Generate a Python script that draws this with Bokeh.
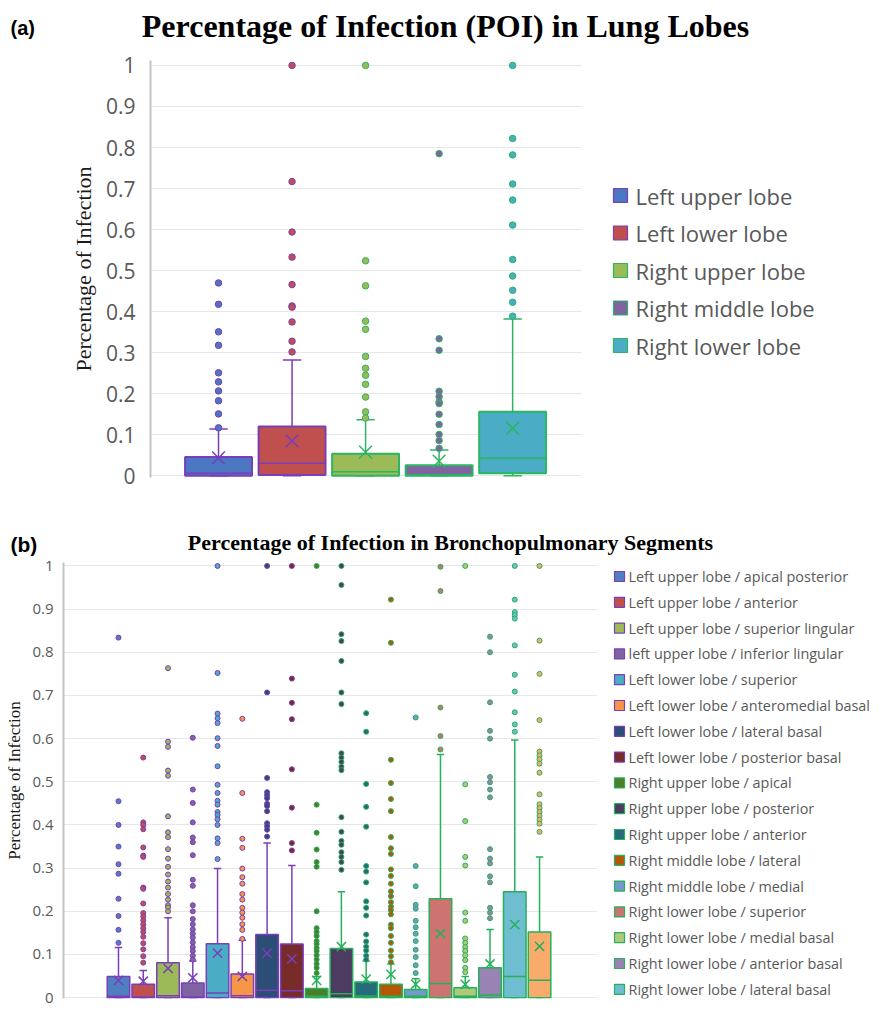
from bokeh.plotting import figure
from bokeh.models import Range1d, FixedTicker
from bokeh.layouts import column, row
from bokeh.embed import file_html
from bokeh.resources import INLINE
from bokeh.core.properties import value

# ---------------- data : panel (a) ----------------
lobes = ["Left upper lobe", "Left lower lobe", "Right upper lobe",
         "Right middle lobe", "Right lower lobe"]
lobe_q1 = [0.0, 0.002, 0.0, 0.0, 0.0065]
lobe_median = [0.0065, 0.031, 0.0098, 0.003, 0.043]
lobe_q3 = [0.046, 0.12, 0.054, 0.026, 0.156]
lobe_low = [0.0, 0.0, 0.0, 0.0, 0.0]
lobe_high = [0.114, 0.282, 0.137, 0.063, 0.382]
lobe_mean = [0.044, 0.085, 0.058, 0.036, 0.116]
lobe_outliers = [
    [0.47, 0.418, 0.351, 0.318, 0.251, 0.229, 0.207, 0.183, 0.151, 0.117],
    [1.0, 0.717, 0.594, 0.533, 0.466, 0.414, 0.411, 0.375, 0.328, 0.302],
    [1.0, 0.524, 0.463, 0.377, 0.357, 0.291, 0.262, 0.245, 0.223, 0.192, 0.156, 0.141],
    [0.785, 0.334, 0.306, 0.206, 0.193, 0.18, 0.176, 0.15, 0.125, 0.101, 0.086, 0.067],
    [1.0, 0.822, 0.782, 0.711, 0.672, 0.611, 0.527, 0.487, 0.452, 0.423, 0.389],
]
lobe_fill = ["#4A76C2", "#C0504D", "#9BBB59", "#8064A2", "#4BACC6"]
lobe_edge = ["#7A3EB8", "#7A3EB8", "#2DB562", "#2DB562", "#2DB562"]

# ---------------- data : panel (b) ----------------
segments = [
    "Left upper lobe / apical posterior",
    "Left upper lobe / anterior",
    "Left upper lobe / superior lingular",
    "left upper lobe /  inferior lingular",
    "Left lower lobe / superior",
    "Left lower lobe / anteromedial basal",
    "Left lower lobe / lateral basal",
    "Left lower lobe / posterior basal",
    "Right upper lobe / apical",
    "Right upper lobe / posterior",
    "Right upper lobe / anterior",
    "Right middle lobe / lateral",
    "Right middle lobe / medial",
    "Right lower lobe / superior",
    "Right lower lobe / medial basal",
    "Right lower lobe / anterior basal",
    "Right lower lobe / lateral basal",
    "Right lower lobe / posterior basal",
]
legend_count_b = 17  # the original legend lists the first 17 names only
seg_q1 = [0.0] * 18
seg_median = [0.003, 0.0015, 0.0045, 0.0015, 0.0105, 0.0045, 0.017, 0.016, 0.003,
              0.009, 0.004, 0.003, 0.003, 0.033, 0.003, 0.006, 0.049, 0.04]
seg_q3 = [0.049, 0.031, 0.081, 0.034, 0.125, 0.055, 0.146, 0.124, 0.021,
          0.114, 0.036, 0.031, 0.019, 0.229, 0.023, 0.069, 0.245, 0.152]
seg_low = [0.0] * 18
seg_high = [0.116, 0.063, 0.185, 0.085, 0.299, 0.133, 0.358, 0.306, 0.049,
            0.245, 0.085, 0.078, 0.044, 0.563, 0.049, 0.158, 0.597, 0.326]
seg_mean = [0.04, 0.038, 0.068, 0.046, 0.103, 0.049, 0.103, 0.09, 0.04,
            0.118, 0.043, 0.054, 0.031, 0.148, 0.031, 0.078, 0.169, 0.119]
seg_outliers = [
    [0.834, 0.455, 0.40, 0.35, 0.309, 0.287, 0.229, 0.189, 0.157, 0.127],
    [0.556, 0.406, 0.40, 0.39, 0.348, 0.329, 0.326, 0.255, 0.252, 0.218, 0.196, 0.188,
     0.179, 0.17, 0.161, 0.152, 0.141, 0.126, 0.112, 0.096, 0.081],
    [0.763, 0.593, 0.581, 0.526, 0.514, 0.42, 0.383, 0.372, 0.344, 0.322, 0.303, 0.285,
     0.269, 0.255, 0.24, 0.227, 0.214, 0.209, 0.2],
    [0.602, 0.482, 0.451, 0.406, 0.371, 0.36, 0.33, 0.273, 0.259, 0.214, 0.2, 0.182,
     0.17, 0.158, 0.148, 0.139, 0.128, 0.117, 0.108, 0.097, 0.088],
    [1.0, 0.752, 0.658, 0.647, 0.636, 0.601, 0.583, 0.536, 0.493, 0.474, 0.456, 0.447,
     0.43, 0.423, 0.413, 0.40, 0.369, 0.358, 0.321],
    [0.646, 0.474, 0.368, 0.347, 0.299, 0.279, 0.264, 0.24, 0.227, 0.208, 0.197, 0.185,
     0.17, 0.157, 0.136],
    [1.0, 0.707, 0.509, 0.476, 0.469, 0.462, 0.449, 0.444, 0.432, 0.404, 0.397, 0.389, 0.373],
    [1.0, 0.739, 0.683, 0.645, 0.529, 0.44, 0.358, 0.341],
    [1.0, 0.447, 0.382, 0.343, 0.314, 0.303, 0.2, 0.161, 0.152, 0.143, 0.131, 0.124,
     0.115, 0.108, 0.098, 0.088, 0.078, 0.069, 0.057],
    [1.0, 0.956, 0.842, 0.826, 0.78, 0.707, 0.68, 0.566, 0.556, 0.546, 0.535, 0.527,
     0.418, 0.384, 0.363, 0.354, 0.337, 0.326, 0.314, 0.296],
    [0.659, 0.616, 0.495, 0.442, 0.396, 0.305, 0.292, 0.267, 0.223, 0.208, 0.19, 0.146,
     0.13, 0.118, 0.109, 0.097, 0.088],
    [0.922, 0.822, 0.551, 0.497, 0.46, 0.432, 0.372, 0.346, 0.333, 0.297, 0.282, 0.264,
     0.246, 0.235, 0.221, 0.211, 0.203, 0.193, 0.169, 0.161, 0.143, 0.127, 0.109, 0.096, 0.082],
    [0.649, 0.305, 0.258, 0.215, 0.206, 0.178, 0.163, 0.148, 0.131, 0.111, 0.094, 0.075, 0.057],
    [0.998, 0.942, 0.672, 0.606, 0.575],
    [1.0, 0.494, 0.409, 0.326, 0.306, 0.197, 0.178, 0.137, 0.127, 0.117, 0.108, 0.098,
     0.087, 0.069, 0.059],
    [0.836, 0.80, 0.684, 0.618, 0.60, 0.511, 0.499, 0.482, 0.464, 0.344, 0.322, 0.311,
     0.281, 0.267, 0.208, 0.197, 0.184],
    [1.0, 0.922, 0.893, 0.886, 0.878, 0.816, 0.748, 0.709, 0.661, 0.633, 0.616],
    [1.0, 0.827, 0.75, 0.643, 0.57, 0.561, 0.552, 0.542, 0.521, 0.471, 0.448, 0.439,
     0.43, 0.421, 0.412, 0.403, 0.384],
]
seg_fill = ["#4F7FC0", "#C0504D", "#9BBB59", "#8064A2", "#4BACC6", "#F79646",
            "#2C4D75", "#772C2A", "#4E7D2A", "#4D3B62", "#276A7C", "#B65708",
            "#729ACA", "#CD7371", "#AFC97A", "#9983B5", "#6FBDD1", "#F9AB6B"]
seg_edge = ["#7A3EB8"] * 8 + ["#25B05A"] * 10

ytick_values = [0, 0.1, 0.2, 0.3, 0.4, 0.5, 0.6, 0.7, 0.8, 0.9, 1]
ytick_labels = ["0", "0.1", "0.2", "0.3", "0.4", "0.5", "0.6", "0.7", "0.8", "0.9", "1"]

title_a = "Percentage of Infection (POI) in Lung Lobes"
title_b = "Percentage of Infection in Bronchopulmonary Segments"
y_label = "Percentage of Infection"

GRID = "#E7E7E7"
AXIS = "#C4C4C4"
TXT = "#595959"
W = 874


def blank(width, height, mbt=0, mbb=0):
    """A figure without axes; 1 data unit = 1 px inside its frame, y downward."""
    fh = height - mbt - mbb
    p = figure(width=width, height=height, output_backend="svg", toolbar_location=None,
               x_range=Range1d(0, width), y_range=Range1d(fh, 0),
               x_axis_location=None, y_axis_location=None,
               min_border_left=0, min_border_right=0, min_border_top=mbt,
               min_border_bottom=mbb)
    p.outline_line_color = None
    p.xgrid.visible = False
    p.ygrid.visible = False
    return p


def header(height, tag, tag_x, tag_y, tag_size, title, tx, ty, tsize):
    p = blank(W, height)
    p.text(x=[tag_x], y=[tag_y], text=[tag], text_font=value("Liberation Sans"),
           text_font_style="bold", text_font_size=tag_size, text_color="black",
           text_align="left", text_baseline="middle")
    p.text(x=[tx], y=[ty], text=[title], text_font=value("Liberation Serif"),
           text_font_style="bold", text_font_size=tsize, text_color="black",
           text_align="center", text_baseline="middle")
    return p


def plot_panel(width, height, x_range, y_range, mbl, mbt, mbb, tick_size, tick_standoff,
               label_size, label_standoff):
    p = figure(width=width, height=height, output_backend="svg", toolbar_location=None,
               x_range=x_range, y_range=y_range,
               x_axis_location=None,
               min_border_left=mbl, min_border_right=0,
               min_border_top=mbt, min_border_bottom=mbb)
    p.outline_line_color = None
    p.xgrid.visible = False
    p.ygrid.grid_line_color = GRID
    p.ygrid.grid_line_width = 1
    p.yaxis.ticker = FixedTicker(ticks=ytick_values)
    p.yaxis.major_label_overrides = {t: l for t, l in zip(ytick_values, ytick_labels)}
    p.yaxis.axis_line_color = AXIS
    p.yaxis.axis_line_width = 2
    p.yaxis.major_tick_line_color = None
    p.yaxis.minor_tick_line_color = None
    p.yaxis.major_label_text_font = "Open Sans"
    p.yaxis.major_label_text_font_size = tick_size
    p.yaxis.major_label_text_color = TXT
    p.yaxis.major_label_standoff = tick_standoff
    p.yaxis.axis_label = y_label
    p.yaxis.axis_label_text_font = "Liberation Serif"
    p.yaxis.axis_label_text_font_style = "normal"
    p.yaxis.axis_label_text_font_size = label_size
    p.yaxis.axis_label_text_color = "#1a1a1a"
    p.yaxis.axis_label_standoff = label_standoff
    return p


def draw_boxes(p, q1, med, q3, low, high, mean, outl, fills, edges,
               width, cap, box_lw, dot_size, x_size):
    n = len(q1)
    for i in range(n):
        x = i + 1
        e = edges[i]
        p.segment(x0=[x, x], y0=[q3[i], q1[i]], x1=[x, x], y1=[high[i], low[i]],
                  line_color=e, line_width=1.5)
        p.segment(x0=[x - cap / 2, x - cap / 2], y0=[high[i], low[i]],
                  x1=[x + cap / 2, x + cap / 2], y1=[high[i], low[i]],
                  line_color=e, line_width=1.5)
        p.vbar(x=[x], width=width, bottom=[q1[i]], top=[q3[i]],
               fill_color=fills[i], line_color=e, line_width=box_lw)
        p.segment(x0=[x - width / 2], y0=[med[i]], x1=[x + width / 2], y1=[med[i]],
                  line_color=e, line_width=1.5)
        p.scatter(x=[x], y=[mean[i]], marker="x", size=x_size,
                  line_color=e, line_width=1.5)
        p.scatter(x=[x] * len(outl[i]), y=outl[i], marker="circle", size=dot_size,
                  fill_color=fills[i], line_color=e, line_width=1)


def legend_panel(width, height, mbt, mbb, names, fills, edges, sq_x, sq_size, text_x,
                 y0, pitch, font_size):
    p = blank(width, height, mbt, mbb)
    ys = [y0 + i * pitch for i in range(len(names))]
    p.scatter(x=[sq_x] * len(names), y=ys, marker="square", size=sq_size,
              fill_color=fills[:len(names)], line_color=edges[:len(names)], line_width=1.2)
    p.text(x=[text_x] * len(names), y=ys, text=names, text_font=value("Open Sans"),
           text_font_size=font_size, text_color=TXT, text_align="left",
           text_baseline="middle")
    return p


# ---------------- panel (a) ----------------
head_a = header(45, "(a)", 10, 27, "20px", title_a, 445, 25, "32px")
pa = plot_panel(582, 445, Range1d(0.075, 5.95), Range1d(-0.004, 1.012),
                150, 15, 13, "21px", 9, "22px", 7)
draw_boxes(pa, lobe_q1, lobe_median, lobe_q3, lobe_low, lobe_high, lobe_mean,
           lobe_outliers, lobe_fill, lobe_edge, 0.91, 0.25, 2, 6.5, 18)
leg_a = legend_panel(W - 582, 445, 15, 13, lobes, lobe_fill, lobe_edge,
                     38, 14, 53, 135, 37.5, "22px")

# ---------------- panel (b) ----------------
head_b = header(66, "(b)", 10, 54, "21px", title_b, 450, 52, "22px")
pb = plot_panel(597, 450, Range1d(-1.22, 20.34), Range1d(-0.002, 1.008),
                63, 6, 8, "15px", 4, "17px", 5)
draw_boxes(pb, seg_q1, seg_median, seg_q3, seg_low, seg_high, seg_mean,
           seg_outliers, seg_fill, seg_edge, 0.91, 0.3, 1.5, 5, 13)
leg_b = legend_panel(W - 597, 450, 6, 8, segments[:legend_count_b], seg_fill, seg_edge,
                     22, 10, 31, 14, 25.8, "14.4px")

layout = column(head_a, row(pa, leg_a), head_b, row(pb, leg_b))
open("out.html", "w").write(file_html(layout, INLINE))
